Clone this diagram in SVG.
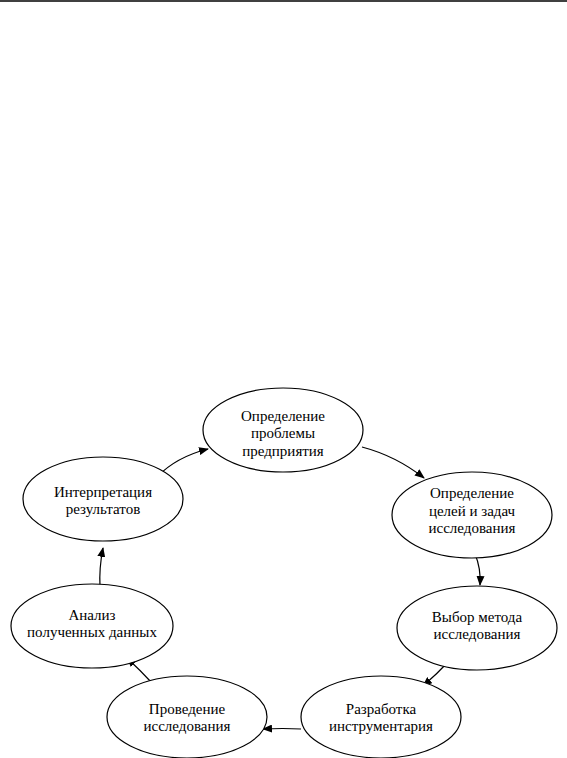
<svg xmlns="http://www.w3.org/2000/svg" width="567" height="758" viewBox="0 0 567 758">
<defs>
<marker id="ah" markerWidth="10" markerHeight="8" refX="9" refY="4" orient="auto" markerUnits="userSpaceOnUse">
<path d="M0,0 L10,4 L0,8 Z" fill="#000"/>
</marker>
<style>
.n ellipse{fill:#fff;stroke:#000;stroke-width:1.2}
.n text{font-family:"Liberation Serif","Times New Roman",serif;font-size:15px;fill:#000;text-anchor:middle}
.c path{fill:none;stroke:#000;stroke-width:1.2;marker-end:url(#ah)}
</style>
</defs>
<rect width="567" height="758" fill="#fff"/>
<line x1="0" y1="1" x2="567" y2="1" stroke="#000" stroke-width="1.5"/>
<g id="connectors" class="c">
<path d="M362,447 Q396,456 424,478"/>
<path d="M475,554 Q481,568 480,585"/>
<path d="M450,660 Q437,674 423,686"/>
<path d="M301,729 Q283,728 263,729"/>
<path d="M152,683 Q140,670 127,658"/>
<path d="M100,587 Q99,568 103,548"/>
<path d="M157,477 Q176,457 208,449"/>
</g>
<g id="n1" class="n">
<ellipse cx="283" cy="430" rx="80" ry="42"/>
<text x="283" y="421">Определение</text>
<text x="283" y="438">проблемы</text>
<text x="283" y="456">предприятия</text>
</g>
<g id="n2" class="n">
<ellipse cx="472" cy="515" rx="80" ry="43"/>
<text x="472" y="498">Определение</text>
<text x="472" y="516">целей и задач</text>
<text x="472" y="533">исследования</text>
</g>
<g id="n3" class="n">
<ellipse cx="477" cy="628" rx="80" ry="42"/>
<text x="477" y="622">Выбор метода</text>
<text x="477" y="639">исследования</text>
</g>
<g id="n4" class="n">
<ellipse cx="381" cy="717" rx="80" ry="41"/>
<text x="381" y="714">Разработка</text>
<text x="381" y="731">инструментария</text>
</g>
<g id="n5" class="n">
<ellipse cx="187" cy="717" rx="80" ry="41"/>
<text x="187" y="714">Проведение</text>
<text x="187" y="731">исследования</text>
</g>
<g id="n6" class="n">
<ellipse cx="92" cy="626" rx="81" ry="42"/>
<text x="92" y="620">Анализ</text>
<text x="92" y="637">полученных данных</text>
</g>
<g id="n7" class="n">
<ellipse cx="103" cy="499" rx="80" ry="42"/>
<text x="103" y="497">Интерпретация</text>
<text x="103" y="514">результатов</text>
</g>
</svg>
